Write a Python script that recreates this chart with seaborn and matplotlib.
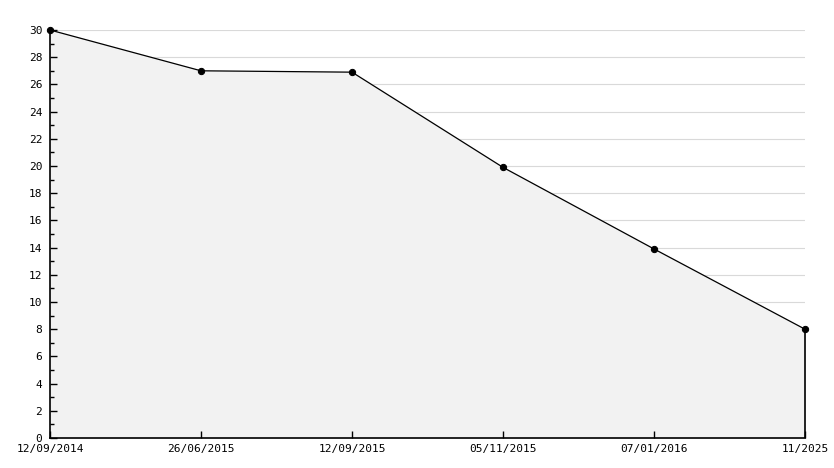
import pandas as pd
import numpy as np
import matplotlib.pyplot as plt
import seaborn as sns
from matplotlib.ticker import MultipleLocator

# data
dates = ["12/09/2014", "26/06/2015", "12/09/2015", "05/11/2015", "07/01/2016", "11/2025"]
values = [30, 27, 26.9, 19.9, 13.9, 8]

df = pd.DataFrame({"pos": np.arange(len(dates)), "value": values})

sns.set_theme(style="white")
plt.rcParams['font.family'] = ['DejaVu Sans Mono', 'DejaVu Sans']

fig = plt.figure(figsize=(8.34, 4.68), dpi=100)
ax = fig.add_axes([50 / 834, 30 / 468, 755 / 834, 408 / 468])

ax.set_xlim(0, len(dates) - 1)
ax.set_ylim(0, 30)

# horizontal grid under the filled area (ticks stay on top)
for yv in np.arange(2, 31, 2):
    ax.axhline(yv, color="#d9d9d9", linewidth=0.8, zorder=0.3)

# area under the line
ax.fill_between(df["pos"], df["value"], 0, color="#f2f2f2", zorder=0.6)
sns.lineplot(data=df, x="pos", y="value", ax=ax, color="black", linewidth=0.9,
             marker="o", markersize=4.5, markeredgecolor="black", zorder=3)
for ln in ax.lines:
    if ln.get_marker() == "o":
        ln.set_clip_on(False)
# right edge of the filled area
ax.vlines(df["pos"].iloc[-1], 0, df["value"].iloc[-1], color="black",
          linewidth=1.2, zorder=4, clip_on=False)

ax.set_xlim(0, len(dates) - 1)
ax.set_ylim(0, 30)
ax.set_xticks(df["pos"])
ax.set_xticklabels(dates)
ax.yaxis.set_major_locator(MultipleLocator(2))
ax.yaxis.set_minor_locator(MultipleLocator(1))
ax.grid(False)
ax.set_axisbelow("line")

for side in ["top", "right"]:
    ax.spines[side].set_visible(False)
for side in ["left", "bottom"]:
    ax.spines[side].set_color("black")
    ax.spines[side].set_linewidth(1.2)
    ax.spines[side].set_zorder(5)

ax.tick_params(axis="y", which="major", direction="in", length=5, width=1,
               labelsize=8, pad=5.5, left=True, colors="black")
ax.tick_params(axis="y", which="minor", direction="in", length=3, width=1, left=True,
               colors="black")
ax.tick_params(axis="x", which="major", direction="in", length=5, width=1,
               labelsize=8, pad=4, bottom=True, colors="black")
ax.set_xlabel("")
ax.set_ylabel("")

plt.savefig("out.png", dpi=100, facecolor="white")
